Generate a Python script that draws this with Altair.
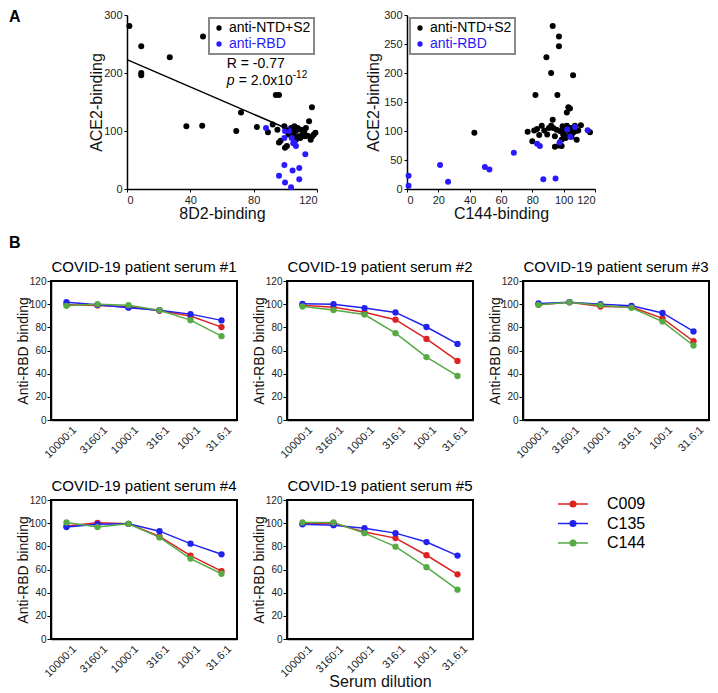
import altair as alt
import pandas as pd

FONT = "Liberation Sans"

# ---------------- Panel A data ----------------
groups = ["anti-NTD+S2", "anti-RBD"]
group_colors = ["#000000", "#2a1aff"]

sc1_ntd_x = [1.5, 9, 9, 9, 27, 48, 37.5, 47.5, 69, 72, 82, 89, 92, 94, 96, 95, 96, 97, 99.4, 99.8,
             101, 100.4, 102, 103.6, 104.6, 105.7, 106.7, 106.7, 107.8, 108.8, 110, 111, 112, 113,
             112.4, 114, 115, 116, 116.8, 117, 118, 119, 109.5, 105.7]
sc1_ntd_y = [281, 246, 200, 196, 227, 263, 108, 109, 100, 132, 107, 98, 111, 162, 162, 102, 80, 83, 108, 71,
             74, 102, 94, 105, 97, 108, 100, 85, 105, 91, 102, 94, 100, 105,
             91, 92, 117, 85, 141, 91, 94, 97, 88, 91]
sc1_rbd_x = [87.8, 99.8, 101.5, 102.5, 99.4, 104, 105, 106.7, 112.6, 99.4, 96, 99.8, 104.6, 108.8, 108.8, 103.6, 105.7]
sc1_rbd_y = [105, 100, 102, 100, 88, 88, 79, 74, 60, 41.5, 23, 11, 32, 36, 17, 3, 80]

sc2_ntd_x = [93, 97, 97, 89, 92, 106, 82, 96, 103, 104, 102, 43, 77, 80, 81.2, 83, 86, 84.4, 87.6, 89.5,
             90.6, 92, 93, 93.3, 94.4, 94.4, 95.5, 97, 97.6, 98.7, 99.3, 99.7, 100.8, 101.2, 102, 103,
             103.4, 104.6, 105, 106, 107.2, 107.8, 109.3, 111, 108.3, 116.8, 98.7]
sc2_ntd_y = [281, 263, 246, 227, 200, 196, 162, 162, 141, 139, 132, 97, 98.5, 82.5, 100.8, 103.6, 109, 93, 100.8, 94,
             105, 109, 119.5, 105, 91, 73, 102, 75, 100, 85, 108, 94, 100, 88, 109, 91,
             100, 105, 90, 97, 109, 100, 101, 110, 85, 98, 74]
sc2_rbd_x = [1, 1, 21.1, 26.2, 49.7, 52.6, 68.2, 83, 84.8, 87, 94.8, 97.4, 102.3, 104.2, 107.2, 115.3]
sc2_rbd_y = [22.8, 5.7, 41.5, 12.5, 38, 33.6, 62.6, 78, 74, 17, 18, 80, 102.5, 90, 107, 101.3]

fit_x = [0, 102]
fit_y = [223, 103]

# ---------------- Panel B data ----------------
dilutions = ["10000:1", "3160:1", "1000:1", "316:1", "100:1", "31.6:1"]
antibodies = ["C009", "C135", "C144"]
ab_colors = ["#dd2222", "#2222ee", "#55aa44"]

serum1 = {"C009": [99.4, 98.9, 97.7, 94.3, 89.7, 80.2],
          "C135": [101.7, 99.4, 97.0, 94.8, 91.4, 86.0],
          "C144": [98.6, 100.0, 99.1, 94.8, 86.2, 72.4]}
serum2 = {"C009": [99.1, 97.4, 93.0, 86.6, 70.0, 51.0],
          "C135": [100.3, 100.0, 96.6, 92.9, 80.3, 65.7],
          "C144": [98.0, 94.9, 91.0, 75.0, 54.3, 38.0]}
serum3 = {"C009": [99.4, 101.7, 98.0, 97.5, 87.8, 68.0],
          "C135": [100.6, 101.7, 100.0, 98.6, 92.4, 76.5],
          "C144": [99.4, 101.7, 99.1, 96.9, 85.0, 64.3]}
serum4 = {"C009": [97.5, 100.3, 99.4, 88.6, 72.0, 58.6],
          "C135": [96.6, 99.1, 99.4, 93.1, 82.3, 73.1],
          "C144": [100.6, 96.6, 99.4, 87.7, 69.4, 56.3]}
serum5 = {"C009": [99.5, 100.0, 92.3, 87.1, 72.3, 55.8],
          "C135": [99.0, 98.3, 95.7, 91.4, 83.7, 72.0],
          "C144": [100.6, 100.6, 91.4, 79.7, 62.0, 42.6]}
sera = [serum1, serum2, serum3, serum4, serum5]
panel_titles = ["COVID-19 patient serum #1", "COVID-19 patient serum #2", "COVID-19 patient serum #3",
                "COVID-19 patient serum #4", "COVID-19 patient serum #5"]

SC_W, SC_H = 190, 174
P_W, P_H = 186, 139


def text_layer(text, x, y, size=16, weight="bold", opacity=1.0, align="left", baseline="top"):
    return alt.Chart(pd.DataFrame({"t": [text]})).mark_text(
        align=align, baseline=baseline, fontSize=size, fontWeight=weight, font=FONT, opacity=opacity
    ).encode(x=alt.value(x), y=alt.value(y), text="t:N")


def scatter(ntd_x, ntd_y, rbd_x, rbd_y, xtitle, orient, ytx, width, extra):
    df = pd.DataFrame({"x": ntd_x + rbd_x, "y": ntd_y + rbd_y,
                       "group": [groups[0]] * len(ntd_x) + [groups[1]] * len(rbd_x)})
    xenc = alt.X("x:Q", scale=alt.Scale(domain=[0, 120], nice=False),
                 axis=alt.Axis(values=[0, 20, 40, 60, 80, 100, 120], title=xtitle, titleY=24,
                               titleBaseline="middle", titleFontSize=16, labelFontSize=11,
                               tickSize=3, labelPadding=2))
    yenc = alt.Y("y:Q", scale=alt.Scale(domain=[0, 300], nice=False),
                 axis=alt.Axis(values=[0, 50, 100, 150, 200, 250, 300], title="ACE2-binding",
                               titleX=ytx, titleY=SC_H / 2, titleBaseline="middle", titleAlign="center",
                               titleFontSize=16, labelFontSize=11, tickSize=3, labelPadding=2))
    pts = alt.Chart(df).mark_circle(size=36, opacity=1).encode(
        x=xenc, y=yenc,
        color=alt.Color("group:N", scale=alt.Scale(domain=groups, range=group_colors),
                        legend=alt.Legend(title=None, orient=orient, offset=3, labelFontSize=14,
                                          symbolSize=28, symbolType="circle", strokeColor="#888888",
                                          padding=3, rowPadding=2, labelOffset=3, labelFont=FONT,
                                          labelColor=alt.ExprRef(expr="datum.label === 'anti-RBD' ? '#2a1aff' : '#000000'")))
    )
    layers = [pts] + extra
    return alt.layer(*layers).properties(width=width, height=SC_H,
                                         view=alt.ViewBackground(stroke="transparent"))


fit = alt.Chart(pd.DataFrame({"x": fit_x, "y": fit_y})).mark_line(color="black", strokeWidth=1.5).encode(
    x="x:Q", y="y:Q")
ann_df = pd.DataFrame({"x": [63.0], "y1": [215.5], "y2": [186.0]})
ann_r = alt.Chart(ann_df).mark_text(align="left", baseline="middle", fontSize=14, font=FONT).encode(
    x="x:Q", y="y1:Q", text=alt.value("R = -0.77"))
ann_p = alt.Chart(ann_df).mark_text(align="left", baseline="middle", fontSize=14, font=FONT,
                                    fontStyle="italic").encode(x="x:Q", y="y2:Q", text=alt.value("p"))
ann_eq = alt.Chart(ann_df).mark_text(align="left", baseline="middle", fontSize=14, font=FONT, dx=12).encode(
    x="x:Q", y="y2:Q", text=alt.value("= 2.0x10"))
ann_sup = alt.Chart(ann_df).mark_text(align="left", baseline="middle", fontSize=10, font=FONT, dx=66,
                                      dy=-6).encode(x="x:Q", y="y2:Q", text=alt.value("-12"))

sc1 = scatter(sc1_ntd_x, sc1_ntd_y, sc1_rbd_x, sc1_rbd_y, "8D2-binding", "top-right", -31, SC_W,
              [fit, ann_r, ann_p, ann_eq, ann_sup, text_layer("A", -118, -6)])
sc2 = scatter(sc2_ntd_x, sc2_ntd_y, sc2_rbd_x, sc2_rbd_y, "C144-binding", "top-left", -34, 188, [])


def panel(i, xtitle=None, extra=None):
    s = sera[i - 1]
    rows = []
    for ab in antibodies:
        for k, (d, v) in enumerate(zip(dilutions, s[ab])):
            rows.append({"dilution": d, "idx": k, "antibody": ab, "value": v})
    df = pd.DataFrame(rows)
    xaxis = alt.Axis(labelAngle=-45, labelAlign="right", labelBaseline="middle", labelFontSize=11,
                     labelPadding=8, labelOffset=8, ticks=False, title=xtitle, titleY=42,
                     titleBaseline="middle", titleFontSize=16)
    lines = alt.Chart(df).mark_line(strokeWidth=1.5, point=alt.OverlayMarkDef(filled=True, size=40)).encode(
        x=alt.X("dilution:N", sort=dilutions, scale=alt.Scale(type="point", padding=0.5), axis=xaxis),
        y=alt.Y("value:Q", scale=alt.Scale(domain=[0, 120], nice=False),
                axis=alt.Axis(values=[0, 20, 40, 60, 80, 100, 120], title="Anti-RBD binding",
                              titleX=-28, titleY=P_H / 2, titleBaseline="middle", titleAlign="center",
                              titleFontSize=14, labelFontSize=10, tickSize=4, labelPadding=1)),
        color=alt.Color("antibody:N", scale=alt.Scale(domain=antibodies, range=ab_colors), legend=None),
        order=alt.Order("idx:Q"),
    )
    title = text_layer(panel_titles[i - 1], P_W / 2, -9, size=15, weight="normal", align="center",
                       baseline="alphabetic")
    layers = [lines, title] + (extra or [])
    return alt.layer(*layers).properties(
        width=P_W, height=P_H, view=alt.ViewBackground(stroke="black", strokeWidth=2))


p1 = panel(1, extra=[text_layer("B", -42, -46)])
p2 = panel(2)
p3 = panel(3)
p4 = panel(4, extra=[text_layer("B", -42, -26, opacity=0)])
p5 = panel(5, xtitle="Serum dilution")

leg_df = pd.DataFrame({"antibody": antibodies})
leg_y = alt.Y("antibody:N", scale=alt.Scale(type="point", domain=antibodies, range=[4, 43], padding=0), axis=None)
leg_c = alt.Color("antibody:N", scale=alt.Scale(domain=antibodies, range=ab_colors), legend=None)
leg_rules = alt.Chart(leg_df).mark_rule(strokeWidth=1.5).encode(
    x=alt.value(35), x2=alt.value(65), y=leg_y, color=leg_c)
leg_pts = alt.Chart(leg_df).mark_circle(size=50, opacity=1).encode(x=alt.value(50), y=leg_y, color=leg_c)
leg_txt = alt.Chart(leg_df).mark_text(align="left", baseline="middle", fontSize=16, font=FONT).encode(
    x=alt.value(84), y=leg_y, text="antibody:N")
legend_panel = alt.layer(leg_rules, leg_pts, leg_txt).properties(
    width=120, height=P_H, view=alt.ViewBackground(stroke="transparent"))

spacer = text_layer(".", 0, 0, size=4, weight="normal", opacity=0).properties(
    width=76, height=4, view=alt.ViewBackground(stroke="transparent"))

inner_A = alt.hconcat(sc1, sc2, spacing=90, bounds="flush").resolve_scale(color="independent")
rowA = alt.hconcat(spacer, inner_A, spacing=0, bounds="flush").resolve_scale(color="independent")
rowB1 = alt.hconcat(p1, p2, p3, spacing=50, bounds="flush").resolve_scale(color="independent")
rowB2 = alt.hconcat(p4, p5, legend_panel, spacing=50, bounds="flush").resolve_scale(color="independent")

chart = alt.vconcat(rowA, rowB1, rowB2, spacing=12).resolve_scale(color="independent").properties(
    padding=0, background="white"
).configure_axis(
    domainColor="black", domainWidth=1.5, tickColor="black", labelColor="#222222", labelFont=FONT,
    titleFont=FONT, titleFontWeight="normal", titleColor="#111111", grid=False
).configure_legend(
    strokeWidth=2
).configure_text(font=FONT)

chart.save("out.html", embed_options={"renderer": "svg", "actions": False})
